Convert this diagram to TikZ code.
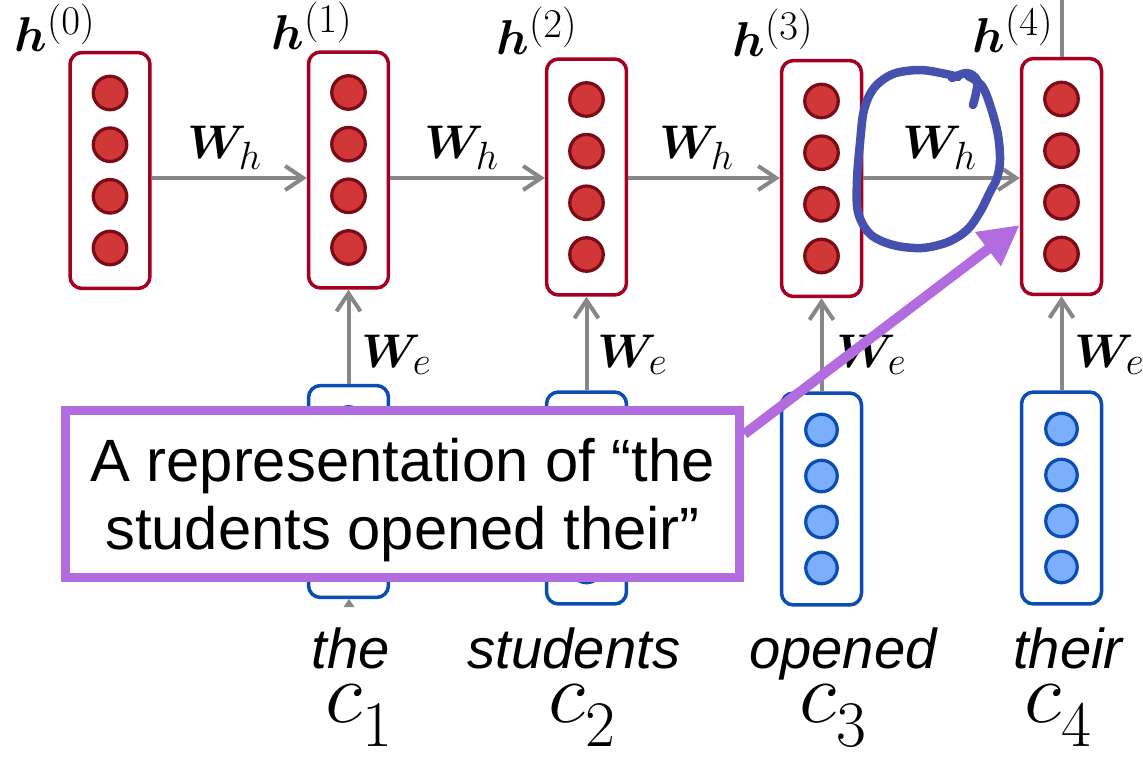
\documentclass[tikz,border=0pt]{standalone}
\usepackage{fontspec}
\usepackage{graphicx}
\usepackage{amsmath,bm}
\usetikzlibrary{arrows.meta,calc}
\newfontfamily\lsans{Liberation Sans}
\definecolor{hidbox}{HTML}{A50021}
\definecolor{hiddotfill}{HTML}{D13737}
\definecolor{hiddotline}{HTML}{7A0B17}
\definecolor{embbox}{HTML}{0A4DB5}
\definecolor{embdotfill}{HTML}{7BAFFB}
\definecolor{arrgray}{HTML}{878787}
\definecolor{callout}{HTML}{B36BE0}
\definecolor{handblue}{HTML}{4650AE}
% math symbols drawn at the largest built-in size and enlarged
\newcommand{\bigmath}[2]{\scalebox{#1}{$#2$}}
\begin{document}
\begin{tikzpicture}[x=0.02cm,y=-0.02cm,
  hbox/.style={draw=hidbox, line width=0.07cm, rounded corners=0.24cm, fill=white,
    minimum width=1.6cm, minimum height=4.72cm, inner sep=0pt},
  ebox/.style={draw=embbox, line width=0.07cm, rounded corners=0.24cm, fill=white,
    minimum width=1.6cm, minimum height=4.24cm, inner sep=0pt},
  hdot/.style={draw=hiddotline, fill=hiddotfill, line width=0.065cm},
  edot/.style={draw=embbox, fill=embdotfill, line width=0.065cm},
  wt/.style={draw=arrgray, line width=0.08cm, -{Straight Barb[length=0.36cm,width=0.48cm]}},
  grayline/.style={draw=arrgray, line width=0.08cm},
  hlab/.style={anchor=base west, inner sep=0pt, font=\fontsize{24.88}{30}\selectfont},
  wlab/.style={anchor=base west, inner sep=0pt, font=\fontsize{24.88}{30}\selectfont},
  word/.style={anchor=base, inner sep=0pt, font=\lsans\itshape\fontsize{32}{36}\selectfont},
  clab/.style={anchor=base, inner sep=0pt, font=\fontsize{24.88}{30}\selectfont},
  note/.style={draw=callout, line width=0.18cm, fill=white, minimum width=13.5cm,
    minimum height=3.36cm, inner sep=0pt},
  notetext/.style={align=center, inner sep=0pt, font=\lsans\fontsize{34}{38.5}\selectfont},
  callarrow/.style={draw=callout, line width=0.2cm, -{Triangle[length=0.8cm,width=0.8cm]}},
  handmark/.style={draw=handblue, line width=0.17cm, line cap=round, line join=round}
]
\useasboundingbox (0,0) rectangle (1143,757);

% hidden states
\node[hbox] (h0) at (110,170.5) {};
\node[hbox] (h1) at (348.5,170) {};
\node[hbox] (h2) at (586.5,177) {};
\node[hbox] (h3) at (821.5,178.5) {};
\node[hbox] (h4) at (1061.5,176.5) {};
\foreach \x/\y in {110/170.5, 348.5/170, 586.5/177, 821.5/178.5, 1061.5/176.5}
  \foreach \d in {-77.5,-25.8,25.8,77.5}
    \draw[hdot] ({\x},{\y+(\d)}) circle[radius=0.335cm];

% embeddings
\node[ebox] (e1) at (348.5,491.5) {};
\node[ebox] (e2) at (586.5,498) {};
\node[ebox] (e3) at (821.5,499) {};
\node[ebox] (e4) at (1061.5,498) {};
\foreach \x/\y in {348.5/491.5, 586.5/498, 821.5/499, 1061.5/498}
  \foreach \d in {-69,-23,23,69}
    \draw[edot] ({\x},{\y+(\d)}) circle[radius=0.315cm];
\fill[arrgray] (349,599) -- (343.5,607) -- (354.5,607) -- cycle;

% recurrent connections
\coordinate (wy) at (0,178);
\draw[wt] (h0.east |- wy) -- (h1.west |- wy);
\draw[wt] (h1.east |- wy) -- (h2.west |- wy);
\draw[wt] (h2.east |- wy) -- (h3.west |- wy);
\draw[wt] (h3.east |- wy) -- (h4.west |- wy);
\coordinate (top) at (1061.5,0);
\draw[grayline] (h4.north) -- (top);

% input connections
\draw[wt] (e1.north) -- (h1.south);
\draw[wt] (e2.north) -- (h2.south);
\draw[wt] (e3.north) -- (h3.south);
\draw[wt] (e4.north) -- (h4.south);

% labels
\node[hlab] (lh0) at (14,52) {\bigmath{1.12}{\bm{h}^{(0)}}};
\node[hlab] (lh1) at (271,50) {\bigmath{1.12}{\bm{h}^{(1)}}};
\node[hlab] (lh2) at (496,55) {\bigmath{1.12}{\bm{h}^{(2)}}};
\node[hlab] (lh3) at (732,57) {\bigmath{1.12}{\bm{h}^{(3)}}};
\node[hlab] (lh4) at (972,53) {\bigmath{1.12}{\bm{h}^{(4)}}};
\node[wlab] (wh1) at (187,158) {\bigmath{1.08}{\bm{W}_h}};
\node[wlab] (wh2) at (424,158) {\bigmath{1.08}{\bm{W}_h}};
\node[wlab] (wh3) at (659,158) {\bigmath{1.08}{\bm{W}_h}};
\node[wlab] (wh4) at (902,158) {\bigmath{1.08}{\bm{W}_h}};
\node[wlab] (we1) at (361,367) {\bigmath{1.08}{\bm{W}_e}};
\node[wlab] (we2) at (597,367) {\bigmath{1.08}{\bm{W}_e}};
\node[wlab] (we3) at (836,367) {\bigmath{1.08}{\bm{W}_e}};
\node[wlab] (we4) at (1074,367) {\bigmath{1.08}{\bm{W}_e}};

% words and their vectors
\node[word] (w1) at (351,668) {the};
\node[word] (w2) at (574,668) {students};
\node[word] (w3) at (843,668) {opened};
\node[word] (w4) at (1068,668) {their};
\node[clab] (c1) at (359,722) {\bigmath{2}{c}\raisebox{-14pt}{\fontsize{37}{40}\selectfont 1}};
\node[clab] (c2) at (582,722) {\bigmath{2}{c}\raisebox{-14pt}{\fontsize{37}{40}\selectfont 2}};
\node[clab] (c3) at (833,722) {\bigmath{2}{c}\raisebox{-14pt}{\fontsize{37}{40}\selectfont 3}};
\node[clab] (c4) at (1058,722) {\bigmath{2}{c}\raisebox{-14pt}{\fontsize{37}{40}\selectfont 4}};

% callout
\node[note] (note) at (402.5,494) {};
\node[notetext] (notetxt) at (402.5,500) {A representation of “the\\students opened their”};
\coordinate (py) at (0,434);
\coordinate (ptip) at (0,225);
\draw[callarrow] (note.east |- py) -- (h4.west |- ptip);

% hand-drawn highlight around the last recurrent weight
\draw[handmark] plot[smooth, tension=0.55] coordinates {
  (968,76) (982,86) (991,108) (998,135) (1000,160) (997,178) (990,192)
  (980,212) (967,230) (948,242) (922,248) (893,245) (870,234) (858,212)
  (857,180) (860,143) (864,110) (874,88) (893,74) (920,70) (946,74) (958,77)};
\draw[handmark] plot[smooth, tension=0.6] coordinates {
  (952,78) (967,73) (977,80) (976,93) (973,105)};
\end{tikzpicture}
\end{document}
